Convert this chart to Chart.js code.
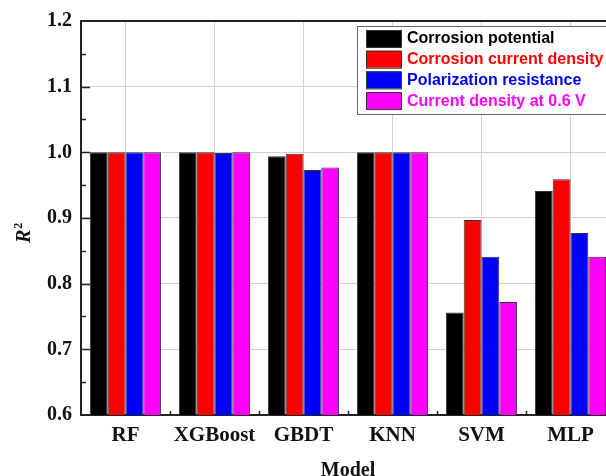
<!DOCTYPE html>
<html>
<head>
<meta charset="utf-8">
<script src="https://cdn.jsdelivr.net/npm/chart.js@4/dist/chart.umd.min.js"></script>
<style>
  html, body { margin: 0; padding: 0; overflow: hidden; background: #fff; }
  #wrap { width: 640px; height: 500px; }
</style>
</head>
<body>
<div id="wrap"><canvas id="plot" width="640" height="500"></canvas></div>
<script>
const models = ['RF', 'XGBoost', 'GBDT', 'KNN', 'SVM', 'MLP'];
const seriesNames = ['Corrosion potential', 'Corrosion current density', 'Polarization resistance', 'Current density at 0.6 V'];
const seriesColors = ['#000000', '#ff0000', '#0000ff', '#ff00ff'];

const corrosionPotential = [1.0, 1.0, 0.994, 1.0, 0.756, 0.941];
const corrosionCurrent   = [1.0, 1.0, 0.998, 1.0, 0.897, 0.959];
const polarization       = [1.0, 0.999, 0.973, 1.0, 0.841, 0.877];
const currentAt06V       = [1.0, 1.0, 0.977, 1.0, 0.772, 0.841];

const yTicks = [0.6, 0.7, 0.8, 0.9, 1.0, 1.1, 1.2];

const serif = "'Liberation Serif', 'Times New Roman', serif";
const sans = "'Liberation Sans', Arial, sans-serif";
const axisColor = '#222';

var values = [corrosionPotential, corrosionCurrent, polarization, currentAt06V];
var datasets = [];
for (let i = 0; i < seriesNames.length; i++) {
  datasets.push({
    label: seriesNames[i],
    data: values[i],
    backgroundColor: seriesColors[i],
    borderColor: '#333',
    borderWidth: 1,
    categoryPercentage: 0.8,
    barPercentage: 1.0
  });
}

// inward ticks, top frame line, boxed legend and axis titles
const decorations = {
  id: 'decorations',
  afterDatasetsDraw(chart) {
    const ctx = chart.ctx;
    const area = chart.chartArea;
    const x = chart.scales.x;
    const y = chart.scales.y;
    ctx.save();
    ctx.strokeStyle = axisColor;
    ctx.lineWidth = 1.5;
    for (let v = 0.65; v < 1.2; v += 0.05) {
      const py = Math.round(y.getPixelForValue(v)) + 0.5;
      const major = Math.abs(v * 10 - Math.round(v * 10)) < 1e-6;
      ctx.beginPath();
      ctx.moveTo(area.left, py);
      ctx.lineTo(area.left + (major ? 9 : 5), py);
      ctx.stroke();
    }
    for (let i = 1; i < models.length; i++) {
      const px = Math.round((x.getPixelForTick(i - 1) + x.getPixelForTick(i)) / 2) + 0.5;
      ctx.beginPath();
      ctx.moveTo(px, area.bottom);
      ctx.lineTo(px, area.bottom - 4);
      ctx.stroke();
    }
    ctx.lineWidth = 2;
    ctx.beginPath();
    ctx.moveTo(area.left - 1, area.top);
    ctx.lineTo(area.right, area.top);
    ctx.stroke();

    // legend
    const lx = 357, ly = 26, lw = 262, lh = 88;
    ctx.fillStyle = '#fff';
    ctx.fillRect(lx, ly, lw, lh);
    ctx.lineWidth = 1;
    ctx.strokeStyle = '#666';
    ctx.strokeRect(lx + 0.5, ly + 0.5, lw, lh);
    ctx.font = 'bold 16px ' + sans;
    ctx.textBaseline = 'middle';
    ctx.textAlign = 'left';
    chart.data.datasets.forEach((ds, i) => {
      const top = 30 + i * 20.7;
      ctx.fillStyle = ds.backgroundColor;
      ctx.fillRect(366, top, 35, 17);
      ctx.strokeStyle = '#333';
      ctx.strokeRect(366.5, top + 0.5, 35, 17);
      ctx.fillStyle = ds.backgroundColor;
      ctx.fillText(ds.label, 407, top + 9);
    });

    // axis titles
    ctx.fillStyle = '#111';
    ctx.textAlign = 'center';
    ctx.textBaseline = 'alphabetic';
    ctx.font = 'bold 20px ' + serif;
    ctx.fillText('Model', (area.left + area.right) / 2, 476);

    ctx.translate(30, 243);
    ctx.rotate(-Math.PI / 2);
    ctx.textAlign = 'left';
    ctx.font = 'italic bold 20px ' + serif;
    ctx.fillText('R', 0, 0);
    const w = ctx.measureText('R').width;
    ctx.font = 'bold 12px ' + serif;
    ctx.fillText('2', w + 1, -8);
    ctx.restore();
  }
};

const config = {
  type: 'bar',
  data: { labels: models, datasets: datasets },
  options: {
    responsive: false,
    animation: false,
    layout: { padding: { top: 21, right: 25, left: 0, bottom: 0 } },
    plugins: {
      legend: { display: false },
      tooltip: { enabled: false }
    },
    scales: {
      x: {
        afterFit(scale) { scale.height = 85; },
        grid: { offset: false, color: '#d0d0d0', lineWidth: 1, drawTicks: false },
        border: { display: true, color: axisColor, width: 2 },
        ticks: {
          padding: 8,
          color: '#111',
          font: { family: serif, size: 21, weight: 'bold' }
        }
      },
      y: {
        min: 0.6,
        max: 1.2,
        afterFit(scale) { scale.width = 81; },
        afterBuildTicks(scale) { scale.ticks = yTicks.map(v => ({ value: v })); },
        grid: {
          color: ctx => (ctx.tick && ctx.tick.value > 0.6 && ctx.tick.value < 1.2) ? '#d0d0d0' : 'rgba(0,0,0,0)',
          lineWidth: 1,
          drawTicks: false
        },
        border: { display: true, color: axisColor, width: 2 },
        ticks: {
          padding: 9,
          color: '#111',
          font: { family: serif, size: 20, weight: 'bold' },
          callback: v => Number(v).toFixed(1)
        }
      }
    }
  },
  plugins: [decorations]
};

var chart = new Chart(document.getElementById('plot').getContext('2d'), config);
</script>
</body>
</html>
